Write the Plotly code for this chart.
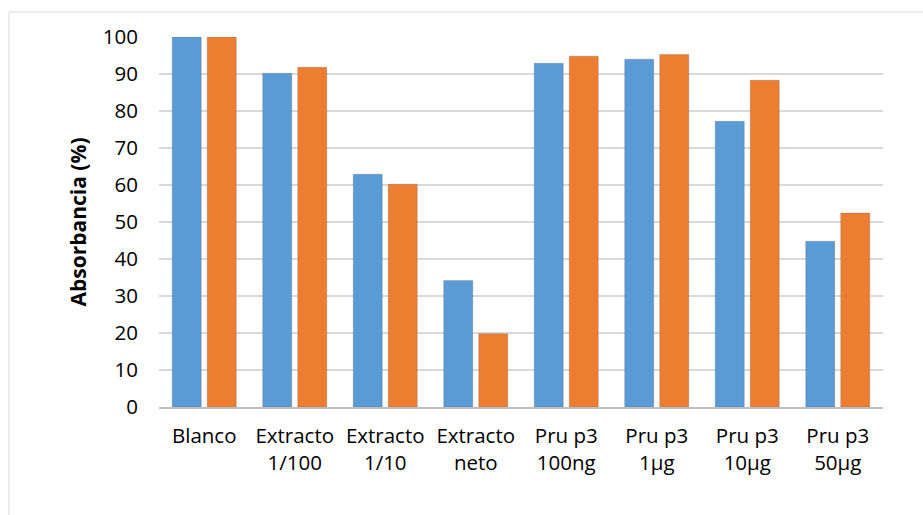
import plotly.graph_objects as go

categories = ["Blanco", "Extracto<br>1/100", "Extracto<br>1/10", "Extracto<br>neto",
              "Pru p3<br>100ng", "Pru p3<br>1µg", "Pru p3<br>10µg", "Pru p3<br>50µg"]
serie_azul = [100, 90.2, 62.9, 34.2, 92.9, 94.0, 77.2, 44.8]
serie_naranja = [100, 91.8, 60.2, 19.8, 94.8, 95.3, 88.3, 52.4]
y_ticks = [0, 10, 20, 30, 40, 50, 60, 70, 80, 90, 100]

FONT = "Open Sans"

fig = go.Figure()
fig.add_trace(go.Bar(x=categories, y=serie_azul, name="Serie 1",
                     marker=dict(color="#5B9BD5", line=dict(color="rgba(90,90,90,0.25)", width=1))))
fig.add_trace(go.Bar(x=categories, y=serie_naranja, name="Serie 2",
                     marker=dict(color="#ED7D31", line=dict(color="rgba(90,90,90,0.25)", width=1))))

L, R, T, B = 159, 40, 37, 108
W, H = 923, 515
pw, ph = W - L - R, H - T - B

fig.update_layout(
    width=W, height=H,
    margin=dict(l=L, r=R, t=T, b=B),
    paper_bgcolor="white", plot_bgcolor="white",
    barmode="group", bargap=0.2265, bargroupgap=0.17,
    showlegend=False,
    font=dict(family=FONT, size=20.5, color="#000000"),
    xaxis=dict(showgrid=False, showline=True, linecolor="#BFBFBF", linewidth=1.5,
               ticks="", tickfont=dict(family=FONT, size=20.5, color="#000000"),
               ticklabelstandoff=10),
    yaxis=dict(range=[0, 100], tickvals=y_ticks, showgrid=True, gridcolor="#D9D9D9",
               gridwidth=1.5, zeroline=False, showline=False, ticks="",
               ticklabelstandoff=20,
               tickfont=dict(family=FONT, size=20.5, color="#000000"),
               title=dict(text="<b>Absorbancia (%)</b>", font=dict(family=FONT, size=21, color="#000000"),
                          standoff=10)),
    shapes=[dict(type="rect", xref="paper", yref="paper",
                 x0=(9 - L) / pw, x1=(935 - L) / pw,
                 y0=(H - B - 530) / ph, y1=(H - B - 12) / ph,
                 line=dict(color="#D9D9D9", width=1), fillcolor="rgba(0,0,0,0)", layer="below")],
)

fig.write_html("out.html")
